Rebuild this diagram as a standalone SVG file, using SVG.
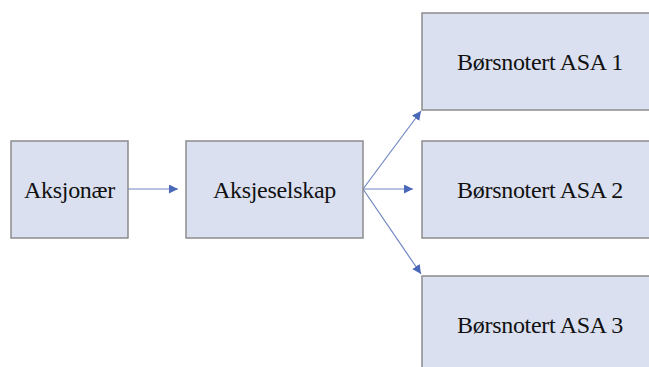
<svg xmlns="http://www.w3.org/2000/svg" width="649" height="367" viewBox="0 0 649 367">
<style>
.box{fill:#dae0f0;stroke:#8c8c8c;stroke-width:1.5}
.lbl{font-family:'Liberation Serif','Times New Roman','DejaVu Serif',serif;font-size:24px;fill:#111;text-anchor:middle;letter-spacing:-0.3px}
.con{stroke:#6f86c2;stroke-width:1.2;fill:none;marker-end:url(#ah)}
</style>
<defs>
<marker id="ah" viewBox="0 0 10 10" refX="10" refY="5" markerWidth="9" markerHeight="9" markerUnits="userSpaceOnUse" orient="auto">
<path d="M0,0 L10,5 L0,10 z" fill="#4a68b8"/>
</marker>
</defs>
<rect width="649" height="367" fill="#fff"/>
<g id="connectors">
<line class="con" x1="128" y1="189" x2="178" y2="189"/>
<line class="con" x1="363" y1="189" x2="421" y2="111"/>
<line class="con" x1="363" y1="189" x2="413" y2="189"/>
<line class="con" x1="363" y1="189" x2="421" y2="274"/>
</g>
<g id="aksjonaer">
<rect class="box" x="11" y="141" width="117" height="97"/>
<text class="lbl" x="69.5" y="197.5">Aksjonær</text>
</g>
<g id="aksjeselskap">
<rect class="box" x="186" y="141" width="177" height="97"/>
<text class="lbl" x="274.5" y="197.5">Aksjeselskap</text>
</g>
<g id="asa1">
<rect class="box" x="422" y="13" width="234" height="97"/>
<text class="lbl" x="540" y="69.5">Børsnotert ASA 1</text>
</g>
<g id="asa2">
<rect class="box" x="422" y="141" width="234" height="97"/>
<text class="lbl" x="540" y="197.5">Børsnotert ASA 2</text>
</g>
<g id="asa3">
<rect class="box" x="422" y="276" width="234" height="97"/>
<text class="lbl" x="540" y="332.5">Børsnotert ASA 3</text>
</g>
</svg>
